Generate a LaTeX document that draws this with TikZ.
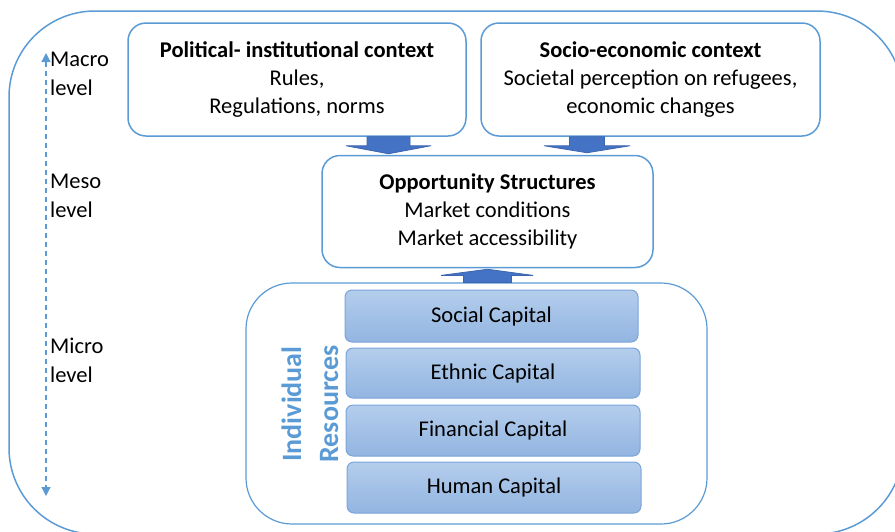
\documentclass[tikz,border=0pt]{standalone}
\usepackage{fontspec}
\setmainfont{Carlito}
\usetikzlibrary{arrows.meta,calc}
\definecolor{frameblue}{HTML}{5B9BD5}
\definecolor{arrowfill}{HTML}{4472C4}
\definecolor{arrowedge}{HTML}{3A65B0}
\definecolor{captop}{HTML}{B4CDEC}
\definecolor{capbot}{HTML}{92B5E1}
\definecolor{capedge}{HTML}{7AA5DA}
\tikzset{
  box/.style={draw=frameblue, line width=1.5pt, rounded corners=18pt, fill=white,
    align=center, font=\fontsize{22.5}{28.3}\selectfont, inner sep=0pt},
  capbox/.style={draw=capedge, line width=1pt, rounded corners=7pt,
    top color=captop, bottom color=capbot, font=\fontsize{22.5}{26}\selectfont,
    minimum width=294pt, minimum height=51pt, inner sep=0pt},
  blockarrow/.style={fill=arrowfill, draw=arrowedge, line width=0.8pt, line join=miter},
  levellabel/.style={anchor=west, align=left, font=\fontsize{22.5}{29}\selectfont, inner sep=0pt},
  levelaxis/.style={draw=frameblue, line width=1.2pt, dash pattern=on 5pt off 4pt,
    {Triangle[length=9pt,width=9pt]}-{Triangle[length=9pt,width=9pt]}}
}
\begin{document}
\begin{tikzpicture}[x=1pt, y=-1pt]
\useasboundingbox (0,0) rectangle (895,531);
\clip (0,0) rectangle (895,531);

% outer frame, running past the right and bottom edges
\draw[frameblue, line width=1.5pt, rounded corners=86pt] (9,11) rectangle (903,534);

% level axis and its labels
\coordinate (axtop) at (46,53);
\coordinate (axbot) at (46,496);
\draw[levelaxis] (axtop) -- (axbot);
\node[levellabel] (macro) at (50,74) {Macro\\level};
\node[levellabel] (meso) at (50,196) {Meso\\level};
\node[levellabel] (micro) at (50,360) {Micro\\level};

% macro level contexts
\node[box, minimum width=338pt, minimum height=113pt] (pol) at (297,79.5)
  {\textbf{Political- institutional context}\\Rules,\\Regulations, norms};
\node[box, minimum width=339pt, minimum height=113pt] (soc) at (650.5,79.5)
  {\textbf{Socio-economic context}\\Societal perception on refugees,\\economic changes};

% meso level
\node[box, minimum width=331pt, minimum height=112pt] (opp) at (487.5,211.5)
  {\textbf{Opportunity Structures}\\Market conditions\\Market accessibility};

% micro level container
\node[draw=frameblue, line width=1.2pt, rounded corners=46pt,
  minimum width=461pt, minimum height=241pt, inner sep=0pt] (res) at (476.5,403.5) {};

\node[capbox, minimum width=293pt, minimum height=52pt] (social) at (491.5,316) {Social Capital};
\node[capbox, minimum height=50pt] (ethnic) at (493,373) {Ethnic Capital};
\node[capbox] (financial) at (493,430.5) {Financial Capital};
\node[capbox] (human) at (494,487.5) {Human Capital};

\node[rotate=90, align=center, text=frameblue, inner sep=0pt,
  font=\fontsize{28}{37}\selectfont\bfseries] (indres) at (310,404) {Individual\\Resources};

% block arrows between the levels
\coordinate (polout) at (pol.south -| 388.5,0);
\coordinate (socout) at (soc.south -| 587,0);
\coordinate (resout) at (res.north -| 487.5,0);

\draw[blockarrow] (polout) ++(-21.5,0) -- ++(0,9) -- ++(-21,0) -- ($(polout |- opp.north)+(0,-1)$)
  -- ($(polout)+(42.5,9)$) -- ++(-21,0) -- ++(0,-9) -- cycle;
\draw[blockarrow] (socout) ++(-17.5,0) -- ++(0,9) -- ++(-25.5,0) -- ($(socout |- opp.north)+(0,-2)$)
  -- ($(socout)+(43,9)$) -- ++(-25.5,0) -- ++(0,-9) -- cycle;
\draw[blockarrow] (resout) ++(-24,0) -- ++(0,-7) -- ++(-22.5,0) -- ($(resout |- opp.south)+(0,1)$)
  -- ($(resout)+(45.5,-7)$) -- ++(-21.5,0) -- ++(0,7) -- cycle;
\end{tikzpicture}
\end{document}
